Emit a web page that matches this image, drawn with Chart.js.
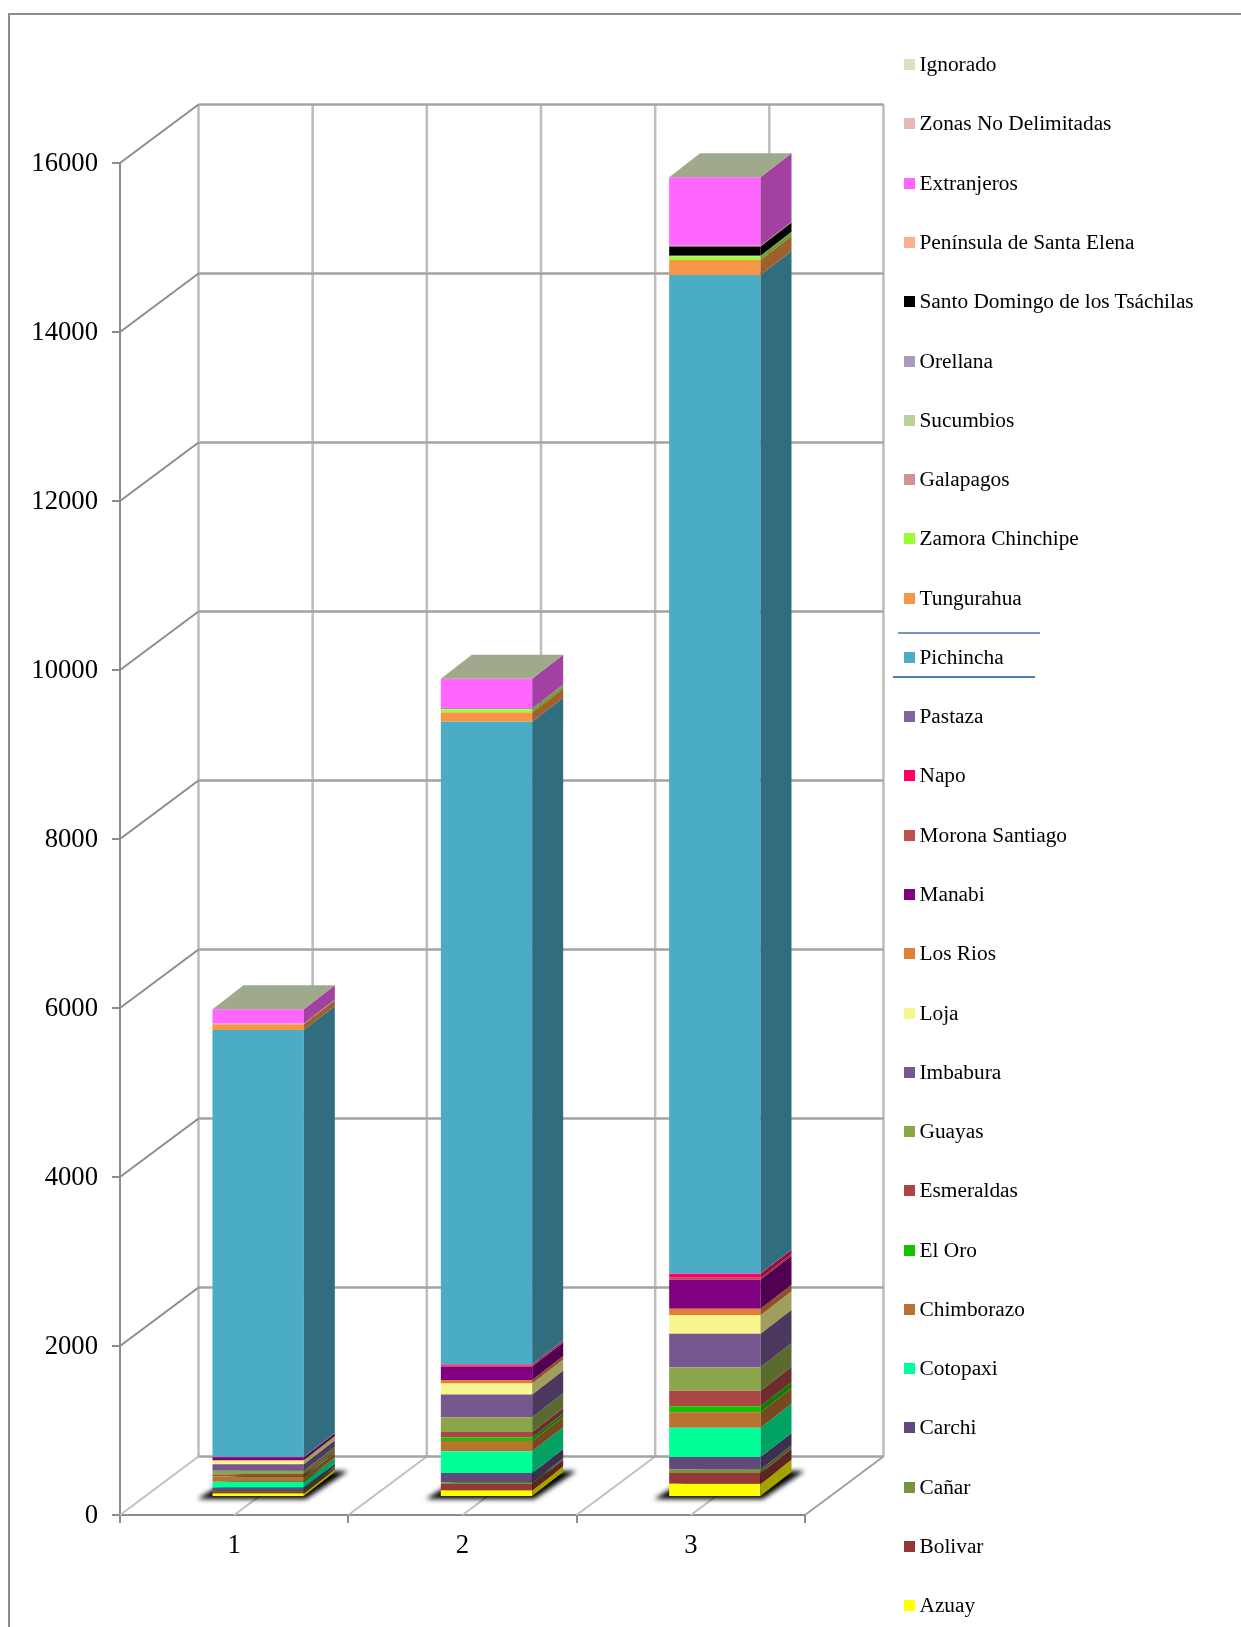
<!DOCTYPE html>
<html>
<head>
<meta charset="utf-8">
<script src="https://cdn.jsdelivr.net/npm/chart.js@4"></script>
<style>
html, body { margin: 0; padding: 0; background: #fff; }
#wrap { position: relative; width: 1241px; height: 1627px; overflow: hidden; }
#frame { position: absolute; left: 8px; top: 13px; width: 1300px; height: 1700px; border: 2px solid #8c8c8c; box-sizing: border-box; }
#c { position: absolute; left: 0; top: 0; }
.mark { position: absolute; height: 2px; }
.item { position: absolute; left: 904px; height: 24px; line-height: 24px; font: 21.33px/24px "Liberation Serif", serif; color: #000; white-space: nowrap; }
.item i { position: absolute; left: 0; top: 7px; width: 11px; height: 11px; }
.item span { position: absolute; left: 15.5px; top: 0; }
</style>
</head>
<body>
<div id="wrap">
  <div id="frame"></div>
  <canvas id="c" width="1241" height="1627"></canvas>
  <div class="mark" style="left:898px;top:632px;width:142px;background:#6f96c8"></div>
  <div class="mark" style="left:893px;top:676px;width:142px;background:#4a7ebb"></div>
  <div id="legend"></div>
</div>
<script>
var categories = ["1", "2", "3"];
var tickLabels = [0, 2000, 4000, 6000, 8000, 10000, 12000, 14000, 16000];

// bottom of the stack first
var provinces = ["Azuay","Bolivar","Cañar","Carchi","Cotopaxi","Chimborazo","El Oro","Esmeraldas","Guayas","Imbabura","Loja","Los Rios","Manabi","Morona Santiago","Napo","Pastaza","Pichincha","Tungurahua","Zamora Chinchipe","Galapagos","Sucumbios","Orellana","Santo Domingo de los Tsáchilas","Península de Santa Elena","Extranjeros","Zonas No Delimitadas","Ignorado"];
var colors = ["#ffff00","#953735","#77933c","#604a7b","#00ff99","#b9722f","#18c000","#aa4644","#8ba54a","#77578f","#f8f78f","#e07f36","#800080","#c0504d","#ff0066","#8064a2","#4bacc6","#f79646","#99ff33","#d09491","#bbd19a","#a99bbd","#000000","#fab08a","#ff66ff","#e6b9b8","#d7e4bd"];

var bar1 = [43,20,10,35,71,60,8,20,45,75,43,8,32,2,2,2,5052,67,3,0,1,1,2,1,168,0,0];
var bar2 = [79,75,20,110,257,122,40,67,174,269,130,43,158,8,16,4,7602,110,35,2,3,2,2,2,352,0,0];
var bar3 = [158,126,40,150,347,182,71,182,280,395,221,75,343,24,47,5,11816,178,40,3,4,2,110,8,811,0,0];

// 3d look
var wallDx = 78.5, wallDy = -58.5;
var barDx = 24, barDy = -18;
var sideDx = 31, sideDy = -24;

function shade(hex, f) {
  var n = parseInt(hex.slice(1), 16);
  var r = Math.round((n >> 16) * f);
  var g = Math.round(((n >> 8) & 255) * f);
  var b = Math.round((n & 255) * f);
  return "rgb(" + r + "," + g + "," + b + ")";
}

function line(ctx, x1, y1, x2, y2, color, w) {
  ctx.strokeStyle = color;
  ctx.lineWidth = w;
  ctx.beginPath();
  ctx.moveTo(x1, y1);
  ctx.lineTo(x2, y2);
  ctx.stroke();
}

function poly(ctx, pts, color) {
  ctx.fillStyle = color;
  ctx.beginPath();
  ctx.moveTo(pts[0][0], pts[0][1]);
  for (var i = 1; i < pts.length; i++) ctx.lineTo(pts[i][0], pts[i][1]);
  ctx.closePath();
  ctx.fill();
}

var box3d = {
  id: "box3d",
  beforeDatasetsDraw: function (chart) {
    var ctx = chart.ctx;
    var sx = chart.scales.x, sy = chart.scales.y;
    var half = (sx.getPixelForValue(1) - sx.getPixelForValue(0)) / 2;
    var y0 = sy.getPixelForValue(0);
    var yTop = sy.getPixelForValue(16000);
    ctx.save();
    // back wall and floor, every half category
    for (var i = 0; i <= categories.length * 2; i++) {
      var x = sx.left + i * half;
      line(ctx, x + wallDx, yTop + wallDy, x + wallDx, y0 + wallDy, "#bdbdbd", 2.5);
      line(ctx, x, y0, x + wallDx, y0 + wallDy, i == categories.length * 2 ? "#a0a0a0" : "#c0c0c0", 2);
    }
    tickLabels.forEach(function (v) {
      var y = sy.getPixelForValue(v);
      line(ctx, sx.left + wallDx, y + wallDy, sx.right + wallDx, y + wallDy, "#a3a3a3", 2.5);
      if (v > 0) line(ctx, sx.left, y, sx.left + wallDx, y + wallDy, "#8c8c8c", 2);
    });
    // soft shadows on the floor
    chart.getDatasetMeta(0).data.forEach(function (el) {
      var l = el.x - el.width / 2 + barDx, r = el.x + el.width / 2 + barDx, b = y0 + barDy;
      ctx.save();
      ctx.filter = "blur(2.5px)";
      poly(ctx, [[l - 15, b + 2], [r + 2, b + 2], [r + sideDx + 13, b + sideDy - 2], [l + sideDx, b + sideDy - 2]], "#000");
      ctx.restore();
    });
    ctx.restore();
    // the library draws the front faces in the bar plane
    ctx.save();
    ctx.translate(barDx, barDy);
  },
  afterDatasetsDraw: function (chart) {
    var ctx = chart.ctx;
    ctx.restore();
    ctx.save();
    provinces.forEach(function (name, d) {
      chart.getDatasetMeta(d).data.forEach(function (el) {
        if (el.base - el.y <= 0) return;
        var r = el.x + el.width / 2 + barDx;
        var t = el.y + barDy, b = el.base + barDy;
        poly(ctx, [[r, b], [r + sideDx, b + sideDy], [r + sideDx, t + sideDy], [r, t]], shade(colors[d], 0.64));
      });
    });
    // top face takes the colour of the last (empty) series
    var last = chart.getDatasetMeta(provinces.length - 1).data;
    last.forEach(function (el) {
      var l = el.x - el.width / 2 + barDx, r = el.x + el.width / 2 + barDx, t = el.y + barDy;
      poly(ctx, [[l, t], [r, t], [r + sideDx, t + sideDy], [l + sideDx, t + sideDy]], shade(colors[provinces.length - 1], 0.74));
    });
    ctx.restore();
  }
};

var datasets = provinces.map(function (name, i) {
  return {
    label: name,
    data: [bar1[i], bar2[i], bar3[i]],
    backgroundColor: colors[i],
    borderWidth: 0,
    categoryPercentage: 1,
    barPercentage: 0.4
  };
});

new Chart(document.getElementById("c"), {
  type: "bar",
  data: { labels: categories, datasets: datasets },
  plugins: [box3d],
  options: {
    responsive: false,
    animation: false,
    layout: { padding: { top: 163, right: 436, left: 0, bottom: 0 } },
    plugins: { legend: { display: false }, tooltip: { enabled: false } },
    scales: {
      x: {
        stacked: true,
        border: { color: "#8c8c8c", width: 2 },
        grid: { drawOnChartArea: false, color: "#8c8c8c", lineWidth: 2, tickLength: 8 },
        ticks: { color: "#000", padding: 7, maxRotation: 0, font: { family: "Liberation Serif", size: 26.67 } },
        afterFit: function (s) { s.height = 112; }
      },
      y: {
        stacked: true,
        min: tickLabels[0],
        max: tickLabels[tickLabels.length - 1],
        border: { color: "#8c8c8c", width: 2 },
        grid: { drawOnChartArea: false, color: "#8c8c8c", lineWidth: 2, tickLength: 8 },
        ticks: {
          stepSize: 2000,
          color: "#000",
          padding: 14,
          // empty first line pushes the number 1px down, like the original
          callback: function (v) { return ["", String(v)]; },
          font: { family: "Liberation Serif", size: 26.67, lineHeight: "2px" }
        },
        afterFit: function (s) { s.width = 120; }
      }
    }
  }
});

// legend, top row is the last series
var legend = document.getElementById("legend");
for (var i = provinces.length - 1; i >= 0; i--) {
  var row = document.createElement("div");
  row.className = "item";
  row.style.top = (64.7 - 12.5 + (provinces.length - 1 - i) * 59.27) + "px";
  var sw = document.createElement("i");
  sw.style.background = colors[i];
  var txt = document.createElement("span");
  txt.textContent = provinces[i];
  row.appendChild(sw);
  row.appendChild(txt);
  legend.appendChild(row);
}
</script>
</body>
</html>
